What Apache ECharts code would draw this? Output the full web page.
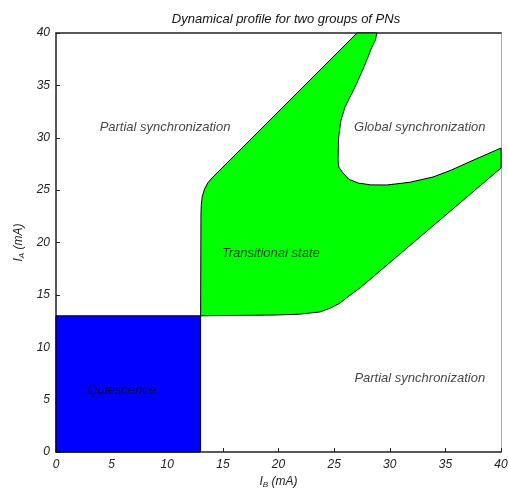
<!DOCTYPE html>
<html>
<head>
<meta charset="utf-8">
<script src="https://cdn.jsdelivr.net/npm/echarts@6/dist/echarts.min.js"></script>
<style>html,body{margin:0;padding:0;background:#fff}#c{width:508px;height:490px}</style>
</head>
<body>
<div id="c"></div>
<script>
var xTicks = [0, 5, 10, 15, 20, 25, 30, 35, 40];
var yTicks = [0, 5, 10, 15, 20, 25, 30, 35, 40];

// Quiescence region (I_B, I_A)
var blueX = [0, 13, 13, 0];
var blueY = [0, 0, 13, 13];

// Transitional state region boundary (I_B, I_A)
var greenX = [13, 13.03, 13.06, 13.15, 13.35, 13.65, 14.1, 15.64, 27.06, 28.85, 28.7, 28.4, 27.7, 26.88, 25.98, 25.6, 25.4, 25.35, 25.42, 25.8, 26.3, 27.15, 28.3, 29.75, 31.8, 33.89, 35.5, 36.94, 40, 40, 27.33, 26.7, 26.1, 25.53, 24.7, 23.73, 21.8, 19.69];
var greenY = [13, 22.63, 23.6, 24.4, 25.1, 25.7, 26.25, 27.88, 40, 40, 39.3, 38.66, 36.8, 34.84, 32.94, 31.6, 30.0, 27.88, 27.2, 26.63, 26.05, 25.68, 25.5, 25.49, 25.75, 26.25, 26.9, 27.59, 29.02, 27.11, 15.66, 15.18, 14.7, 14.22, 13.75, 13.37, 13.15, 13.08];

var labelText = ['Partial synchronization', 'Global synchronization', 'Transitional state', 'Quiescence', 'Partial synchronization'];
var labelX = [9.8, 32.7, 19.3, 5.9, 32.7];
var labelY = [31.0, 31.0, 19.0, 5.9, 7.0];
var labelColor = ['#111', '#111', '#111', '#000033', '#111'];

var FONT = '"Liberation Sans", Arial, sans-serif';

function polySeries(xs, ys, color) {
  return {
    type: 'custom',
    coordinateSystem: 'cartesian2d',
    data: [[xs[0], ys[0]]],
    renderItem: function (params, api) {
      var pts = xs.map(function (x, i) { return api.coord([x, ys[i]]); });
      return {
        type: 'polygon',
        shape: { points: pts },
        style: { fill: color, stroke: '#000', lineWidth: 1 }
      };
    },
    silent: true,
    z: 2
  };
}

var chart = echarts.init(document.getElementById('c'), null, { renderer: 'canvas' });
chart.setOption({
  animation: false,
  backgroundColor: '#fff',
  title: {
    text: 'Dynamical profile for two groups of PNs',
    left: 281, top: 8, textAlign: 'center',
    textStyle: { fontFamily: FONT, fontSize: 13, fontStyle: 'italic', fontWeight: 'normal', color: '#111' }
  },
  grid: { left: 56, right: 7, top: 33, bottom: 38, containLabel: false, outerBoundsMode: 'none' },
  xAxis: [{
    type: 'value', min: 0, max: 40, interval: 5,
    axisLine: { onZero: false, lineStyle: { color: '#222', width: 1.5 } },
    axisTick: { inside: true, length: 4, lineStyle: { color: '#222' } },
    axisLabel: { fontFamily: FONT, fontSize: 12, fontStyle: 'italic', color: '#222', margin: 7,
      formatter: function (v) { return xTicks.indexOf(v) >= 0 ? String(v) : ''; } },
    splitLine: { show: false },
    name: '{i|I}{s|B}{n| (mA)}', nameLocation: 'middle', nameGap: 21,
    nameTextStyle: { rich: {
      i: { fontFamily: FONT, fontSize: 12, fontStyle: 'italic', color: '#222' },
      s: { fontFamily: FONT, fontSize: 8, fontStyle: 'italic', color: '#222', verticalAlign: 'bottom', padding: [6, 0, 0, 0] },
      n: { fontFamily: FONT, fontSize: 12, fontStyle: 'italic', color: '#222' }
    } }
  }, {
    type: 'value', min: 0, max: 40, position: 'top',
    axisLine: { show: true, onZero: false, lineStyle: { color: '#222', width: 1.5 } },
    axisTick: { show: false }, axisLabel: { show: false }, splitLine: { show: false }
  }],
  yAxis: [{
    type: 'value', min: 0, max: 40, interval: 5,
    axisLine: { show: true, onZero: false, lineStyle: { color: '#222', width: 1.5 } },
    axisTick: { show: true, inside: true, length: 4, lineStyle: { color: '#222' } },
    axisLabel: { fontFamily: FONT, fontSize: 12, fontStyle: 'italic', color: '#222', margin: 6,
      formatter: function (v) { return yTicks.indexOf(v) >= 0 ? String(v) : ''; } },
    splitLine: { show: false },
    name: '{i|I}{s|A}{n| (mA)}', nameLocation: 'middle', nameGap: 30, nameRotate: 90,
    nameTextStyle: { rich: {
      i: { fontFamily: FONT, fontSize: 12, fontStyle: 'italic', color: '#222' },
      s: { fontFamily: FONT, fontSize: 8, fontStyle: 'italic', color: '#222', verticalAlign: 'bottom', padding: [6, 0, 0, 0] },
      n: { fontFamily: FONT, fontSize: 12, fontStyle: 'italic', color: '#222' }
    } }
  }, {
    type: 'value', min: 0, max: 40, position: 'right',
    axisLine: { show: true, onZero: false, lineStyle: { color: '#aaa', width: 1 } },
    axisTick: { show: false }, axisLabel: { show: false }, splitLine: { show: false }
  }],
  series: [
    polySeries(blueX, blueY, '#0000ff'),
    polySeries(greenX, greenY, '#00ff00'),
    {
      type: 'scatter',
      symbolSize: 0,
      silent: true,
      z: 5,
      data: labelText.map(function (t, i) {
        return { value: [labelX[i], labelY[i]], name: t, label: { color: labelColor[i] } };
      }),
      label: {
        show: true, position: 'inside',
        formatter: function (p) { return p.name; },
        fontFamily: FONT, fontSize: 13, fontStyle: 'italic'
      }
    }
  ]
});
</script>
</body>
</html>
